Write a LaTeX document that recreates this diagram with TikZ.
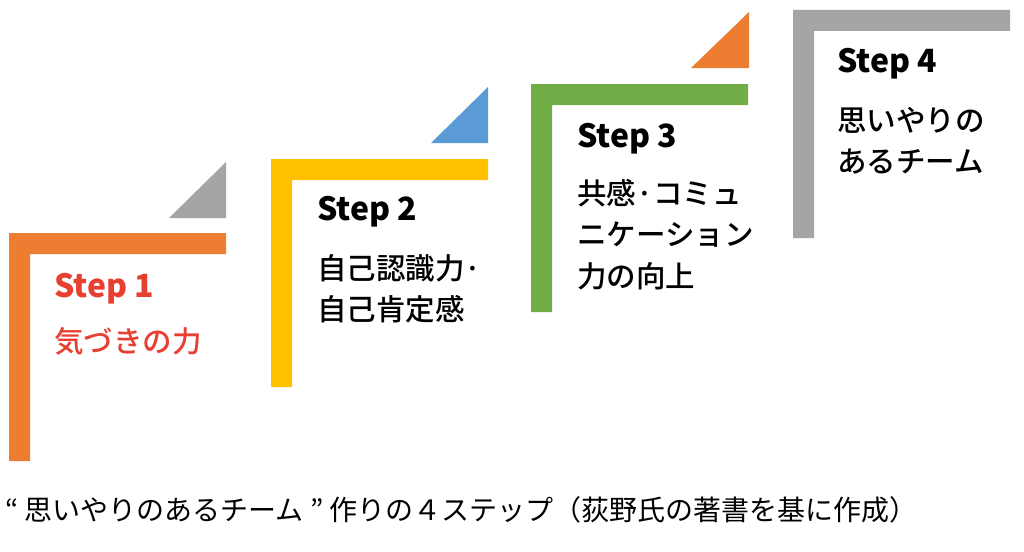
\documentclass[tikz,border=0pt]{standalone}
\usepackage{fontspec}
\setmainfont{Noto Sans CJK JP}[BoldFont={Noto Sans CJK JP Black}]
\newfontfamily\medfont{Noto Sans CJK JP Medium}
\definecolor{corange}{RGB}{237,125,49}
\definecolor{cyellow}{RGB}{255,192,0}
\definecolor{cgreen}{RGB}{112,173,71}
\definecolor{cgray}{RGB}{165,165,165}
\definecolor{cblue}{RGB}{91,155,213}
\definecolor{cred}{RGB}{232,64,48}
\begin{document}
\begin{tikzpicture}[x=1pt,y=-1pt,
  steplabel/.style={anchor=base west,inner sep=0pt,font=\fontsize{32}{32}\selectfont\bfseries},
  stepline/.style={anchor=base west,inner sep=0pt,font=\fontsize{29.5}{29.5}\medfont},
  captext/.style={anchor=base west,inner sep=0pt,font=\fontsize{28}{28}\selectfont}]
\useasboundingbox[fill=white] (0,0) rectangle (1024,551);
% brackets
\newcommand{\bracketshape}[3]{%
  \fill[#3] (#1,#2) -- ++(217,0) -- ++(0,21) -- ++(-196,0) -- ++(0,207) -- ++(-21,0) -- cycle;}
\bracketshape{9}{233}{corange}
\bracketshape{271}{159}{cyellow}
\bracketshape{531}{84}{cgreen}
\bracketshape{793}{10}{cgray}
% triangles
\fill[cgray] (226,162) -- (226,218) -- (169,218) -- cycle;
\fill[cblue] (488,87) -- (488,143) -- (431,143) -- cycle;
\fill[corange] (749,12) -- (749,68) -- (691,68) -- cycle;
% texts
\node[steplabel,text=cred] (s1) at (54,297) {Step 1};
\node[stepline,text=cred] (s1a) at (54,352) {気づきの力};
\node[steplabel] (s2) at (317,220) {Step 2};
\node[stepline] (s2a) at (317,279) {自己認識力·};
\node[stepline] (s2b) at (317,320) {自己肯定感};
\node[steplabel] (s3) at (577,147) {Step 3};
\node[stepline] (s3a) at (577,204) {共感·コミュ};
\node[stepline] (s3b) at (577,245) {ニケーション};
\node[stepline] (s3c) at (577,287) {力の向上};
\node[steplabel] (s4) at (837,72) {Step 4};
\node[stepline] (s4a) at (837,131) {思いやりの};
\node[stepline] (s4b) at (837,172) {あるチーム};
\node[captext] (cap) at (5,520) {“ 思いやりのあるチーム ” 作りの４ステップ（荻野氏の著書を基に作成）};
\end{tikzpicture}
\end{document}
